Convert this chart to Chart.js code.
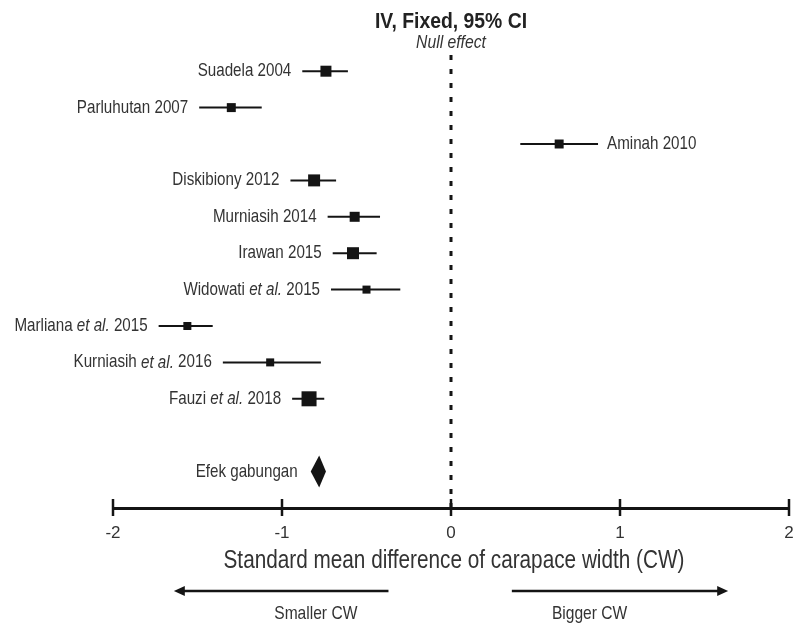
<!DOCTYPE html>
<html>
<head>
<meta charset="utf-8">
<script src="https://cdn.jsdelivr.net/npm/chart.js@4.4.1/dist/chart.umd.min.js"></script>
<style>
  html, body { margin: 0; padding: 0; background: #fff; }
  #wrap { width: 794px; height: 627px; }
</style>
</head>
<body>
<div id="wrap"><canvas id="forestChart" width="794" height="627"></canvas></div>
<script>
// Study rows
const studies = ['Suadela 2004', 'Parluhutan 2007', 'Aminah 2010', 'Diskibiony 2012', 'Murniasih 2014', 'Irawan 2015', 'Widowati et al. 2015', 'Marliana et al. 2015', 'Kurniasih et al. 2016', 'Fauzi et al. 2018'];
const smd     = [-0.74, -1.30, 0.64, -0.81, -0.57, -0.58, -0.50, -1.56, -1.07, -0.84];
const ciLow   = [-0.88, -1.49, 0.41, -0.95, -0.73, -0.70, -0.71, -1.73, -1.35, -0.94];
const ciHigh  = [-0.61, -1.12, 0.87, -0.68, -0.42, -0.44, -0.30, -1.41, -0.77, -0.75];
const weights = [11.1, 7.4, 7.4, 13.2, 9.2, 13.2, 5.9, 5.9, 5.9, 20.7];

// Pooled (fixed effect) estimate: low, estimate, high
const pooledLabel = 'Efek gabungan';
const pooled = [-0.83, -0.78, -0.74];

const xTicks = [-2, -1, 0, 1, 2];
const chartTitle = 'IV, Fixed, 95% CI';
const chartSubtitle = 'Null effect';
const xTitle = 'Standard mean difference of carapace width (CW)';
const dirLabels = ['Smaller CW', 'Bigger CW'];

// no narrow font installed, so squeeze Liberation Sans horizontally
const FONT = '"Liberation Sans", Arial, sans-serif';
const SQUEEZE = 0.82;
const INK = '#141414';
const TEXT = '#333333';

const pooledRow = studies.length + 1;

function squeezedText(ctx, text, xPos, yPos, align, font, sx = SQUEEZE) {
    ctx.save();
    ctx.font = font;
    ctx.textAlign = align;
    ctx.textBaseline = 'middle';
    ctx.translate(xPos, yPos);
    ctx.scale(sx, 1);
    ctx.fillText(text, 0, 0);
    ctx.restore();
}

// draw a label, putting "et al." in italics
function drawLabel(ctx, text, xPos, yPos, align, size) {
    const parts = text.split(/(et al\.)/).filter(p => p.length);
    const fonts = parts.map(p => (p === 'et al.' ? 'italic ' : '') + size + 'px ' + FONT);
    const widths = parts.map((p, i) => { ctx.font = fonts[i]; return ctx.measureText(p).width * SQUEEZE; });
    const total = widths.reduce((a, b) => a + b, 0);
    let cx = align === 'right' ? xPos - total : xPos;
    parts.forEach((p, i) => {
        squeezedText(ctx, p, cx, yPos, 'left', fonts[i]);
        cx += widths[i];
    });
}

const forestPlugin = {
    id: 'forestExtras',
    beforeDatasetsDraw(chart) {
        const { ctx, chartArea, scales: { x } } = chart;
        const x0 = x.getPixelForValue(0);
        ctx.save();
        ctx.strokeStyle = INK;
        ctx.lineWidth = 3;
        ctx.setLineDash([5, 9]);
        ctx.beginPath();
        ctx.moveTo(x0, chartArea.top + 2);
        ctx.lineTo(x0, chartArea.bottom);
        ctx.stroke();
        ctx.restore();
    },
    afterDatasetsDraw(chart) {
        const { ctx, chartArea, scales: { x, y } } = chart;
        const x0 = x.getPixelForValue(0);
        ctx.save();

        // header over the null line
        ctx.fillStyle = '#222';
        squeezedText(ctx, chartTitle, x0, 22, 'center', 'bold 21.5px ' + FONT, 0.9);
        ctx.fillStyle = TEXT;
        squeezedText(ctx, chartSubtitle, x0, 43, 'center', 'italic 18.5px ' + FONT, 0.85);

        // study labels
        studies.forEach((name, i) => {
            const py = y.getPixelForValue(i);
            if (smd[i] > 0) {
                drawLabel(ctx, name, x.getPixelForValue(ciHigh[i]) + 9, py, 'left', 18.5);
            } else {
                drawLabel(ctx, name, x.getPixelForValue(ciLow[i]) - 11, py, 'right', 18.5);
            }
        });

        // pooled diamond
        const py = y.getPixelForValue(pooledRow);
        const xl = x.getPixelForValue(pooled[0]);
        const xm = x.getPixelForValue(pooled[1]);
        const xr = x.getPixelForValue(pooled[2]);
        ctx.fillStyle = INK;
        ctx.beginPath();
        ctx.moveTo(xl, py);
        ctx.lineTo(xm, py - 16);
        ctx.lineTo(xr, py);
        ctx.lineTo(xm, py + 16);
        ctx.closePath();
        ctx.fill();
        ctx.fillStyle = TEXT;
        drawLabel(ctx, pooledLabel, xl - 13, py, 'right', 18.5);

        // tick marks crossing the axis line
        ctx.strokeStyle = INK;
        ctx.lineWidth = 2.5;
        xTicks.forEach(v => {
            const px = Math.round(x.getPixelForValue(v));
            ctx.beginPath();
            ctx.moveTo(px, chartArea.bottom - 9);
            ctx.lineTo(px, chartArea.bottom + 8);
            ctx.stroke();
        });

        // axis title
        ctx.fillStyle = TEXT;
        squeezedText(ctx, xTitle, x0 + 3, 561, 'center', '25px ' + FONT, 0.83);

        // direction arrows under the axis title
        const ay = 591;
        const arrow = (from, to) => {
            const a = x.getPixelForValue(from), b = x.getPixelForValue(to);
            const dir = Math.sign(b - a);
            ctx.lineWidth = 2.5;
            ctx.beginPath();
            ctx.moveTo(a, ay);
            ctx.lineTo(b - dir * 8, ay);
            ctx.stroke();
            ctx.beginPath();
            ctx.moveTo(b, ay);
            ctx.lineTo(b - dir * 11, ay - 5);
            ctx.lineTo(b - dir * 11, ay + 5);
            ctx.closePath();
            ctx.fill();
        };
        ctx.fillStyle = INK;
        arrow(-0.37, -1.64);
        arrow(0.36, 1.64);

        ctx.fillStyle = TEXT;
        squeezedText(ctx, dirLabels[0], x.getPixelForValue(-0.8), 614, 'center', '19px ' + FONT);
        squeezedText(ctx, dirLabels[1], x.getPixelForValue(0.82), 614, 'center', '19px ' + FONT);
        ctx.restore();
    }
};

const ciSets = studies.map((name, i) => ({
    label: name,
    data: [{ x: ciLow[i], y: i }, { x: ciHigh[i], y: i }],
    showLine: true,
    borderColor: INK,
    borderWidth: 2,
    pointRadius: 0,
    order: 2
}));

const pointSet = {
    label: 'SMD',
    data: smd.map((v, i) => ({ x: v, y: i })),
    pointStyle: 'rect',
    pointRadius: weights.map(w => Math.sqrt(w) * 3.3 / Math.SQRT2),
    backgroundColor: INK,
    borderWidth: 0,
    order: 1
};

const ctx = document.getElementById('forestChart').getContext('2d');
new Chart(ctx, {
    type: 'scatter',
    data: { datasets: [pointSet, ...ciSets] },
    options: {
        responsive: false,
        animation: false,
        layout: { autoPadding: false, padding: { left: 113, right: 5, top: 53, bottom: 53 } },
        plugins: {
            legend: { display: false },
            tooltip: { enabled: false }
        },
        scales: {
            x: {
                type: 'linear',
                min: -2,
                max: 2,
                afterBuildTicks: (scale) => { scale.ticks = xTicks.map(v => ({ value: v })); },
                grid: { drawOnChartArea: false, drawTicks: true, tickLength: 8, color: 'transparent' },
                border: { display: true, color: INK, width: 3 },
                ticks: { color: TEXT, font: { family: FONT, size: 17 }, padding: 7 },
                afterFit: (scale) => {
                    scale.height = 66;
                    scale.paddingLeft = 0;
                    scale.paddingRight = 0;
                }
            },
            y: {
                type: 'linear',
                display: false,
                reverse: true,
                min: -0.5,
                max: 12
            }
        }
    },
    plugins: [forestPlugin]
});
</script>
</body>
</html>
